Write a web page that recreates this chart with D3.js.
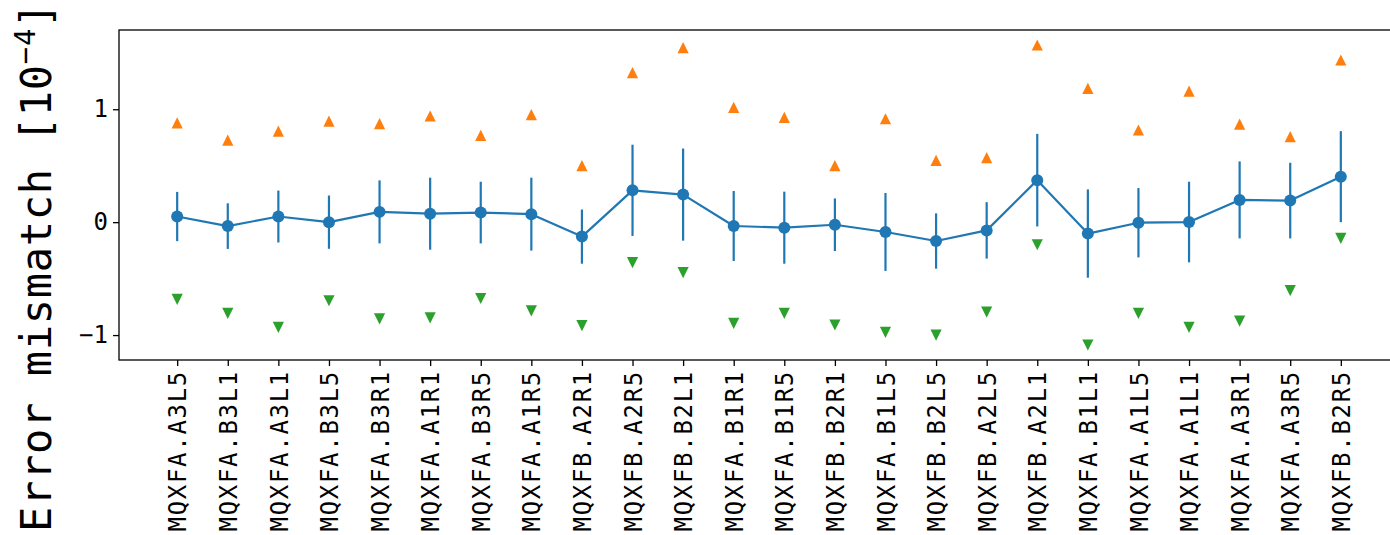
<!DOCTYPE html>
<html>
<head>
<meta charset="utf-8">
<script src="https://cdn.jsdelivr.net/npm/d3@7"></script>
<style>
  html, body { margin: 0; padding: 0; background: #fff; }
  svg { display: block; }
  text { font-family: "DejaVu Sans Mono", monospace; fill: #000; }
</style>
</head>
<body>
<svg id="chart" width="1390" height="535"></svg>
<script>
// Magnet names along the x axis
const categories = [
  "MQXFA.A3L5", "MQXFA.B3L1", "MQXFA.A3L1", "MQXFA.B3L5", "MQXFA.B3R1", "MQXFA.A1R1",
  "MQXFA.B3R5", "MQXFA.A1R5", "MQXFB.A2R1", "MQXFB.A2R5", "MQXFB.B2L1", "MQXFA.B1R1",
  "MQXFA.B1R5", "MQXFB.B2R1", "MQXFA.B1L5", "MQXFB.B2L5", "MQXFB.A2L5", "MQXFB.A2L1",
  "MQXFA.B1L1", "MQXFA.A1L5", "MQXFA.A1L1", "MQXFA.A3R1", "MQXFA.A3R5", "MQXFB.B2R5"
];

// Mean mismatch and its spread (units of 1e-4)
const meanValues = [
  0.05, -0.035, 0.05, 0.0, 0.091, 0.075, 0.085, 0.071, -0.128, 0.282, 0.244, -0.034,
  -0.049, -0.023, -0.087, -0.167, -0.073, 0.372, -0.101, -0.005, 0.001, 0.197, 0.191, 0.403
];
const errValues = [
  0.218, 0.202, 0.23, 0.236, 0.279, 0.319, 0.273, 0.323, 0.24, 0.404, 0.408, 0.31,
  0.319, 0.233, 0.345, 0.245, 0.25, 0.41, 0.391, 0.307, 0.357, 0.341, 0.335, 0.403
];

// Largest and smallest mismatch per magnet
const maxValues = [
  0.88, 0.727, 0.807, 0.895, 0.872, 0.94, 0.769, 0.952, 0.5, 1.324, 1.545, 1.016,
  0.928, 0.5, 0.916, 0.547, 0.571, 1.569, 1.185, 0.816, 1.161, 0.869, 0.757, 1.436
];
const minValues = [
  -0.684, -0.808, -0.932, -0.696, -0.857, -0.848, -0.676, -0.785, -0.916, -0.359, -0.447, -0.896,
  -0.808, -0.911, -0.976, -1.0, -0.797, -0.2, -1.088, -0.808, -0.932, -0.876, -0.607, -0.144
];

const yTicks = [-1, 0, 1];

const svg = d3.select("#chart");
const plot = { left: 119, top: 30, bottom: 360, right: 1399 };

// Autoscale with 5% margins on both axes
const n = categories.length;
const xPad = (n - 1) * 0.05;
const x = d3.scaleLinear()
  .domain([-xPad, n - 1 + xPad])
  .range([plot.left, plot.right]);

const allY = maxValues.concat(minValues,
  meanValues.map((m, i) => m + errValues[i]),
  meanValues.map((m, i) => m - errValues[i]));
const yMin = d3.min(allY), yMax = d3.max(allY);
const yPad = (yMax - yMin) * 0.05;
const y = d3.scaleLinear()
  .domain([yMin - yPad, yMax + yPad])
  .range([plot.bottom, plot.top]);

const C0 = "#1f77b4", C1 = "#ff7f0e", C2 = "#2ca02c";

// Error bars
svg.append("g")
  .selectAll("line")
  .data(meanValues)
  .join("line")
  .attr("x1", (d, i) => x(i))
  .attr("x2", (d, i) => x(i))
  .attr("y1", (d, i) => y(d - errValues[i]))
  .attr("y2", (d, i) => y(d + errValues[i]))
  .attr("stroke", C0)
  .attr("stroke-width", 2.2);

// Mean line
svg.append("path")
  .datum(meanValues)
  .attr("fill", "none")
  .attr("stroke", C0)
  .attr("stroke-width", 2.2)
  .attr("stroke-linejoin", "round")
  .attr("d", d3.line().x((d, i) => x(i)).y(d => y(d)));

// Mean markers
svg.append("g")
  .selectAll("circle")
  .data(meanValues)
  .join("circle")
  .attr("cx", (d, i) => x(i))
  .attr("cy", d => y(d))
  .attr("r", 6)
  .attr("fill", C0);

// Triangle markers: up for the maxima, down for the minima
const tri = 5.6;
const upPath = `M0,${-tri}L${tri},${tri}L${-tri},${tri}Z`;
const downPath = `M0,${tri}L${tri},${-tri}L${-tri},${-tri}Z`;

svg.append("g")
  .selectAll("path")
  .data(maxValues)
  .join("path")
  .attr("transform", (d, i) => `translate(${x(i)},${y(d)})`)
  .attr("d", upPath)
  .attr("fill", C1);

svg.append("g")
  .selectAll("path")
  .data(minValues)
  .join("path")
  .attr("transform", (d, i) => `translate(${x(i)},${y(d)})`)
  .attr("d", downPath)
  .attr("fill", C2);

// Frame
svg.append("rect")
  .attr("x", plot.left)
  .attr("y", plot.top)
  .attr("width", plot.right - plot.left)
  .attr("height", plot.bottom - plot.top)
  .attr("fill", "none")
  .attr("stroke", "#000")
  .attr("stroke-width", 1.3);

// X axis with vertical tick labels
const xAxis = svg.append("g")
  .attr("transform", `translate(0,${plot.bottom})`)
  .call(d3.axisBottom(x)
    .tickValues(d3.range(n))
    .tickFormat(i => categories[i])
    .tickSize(6)
    .tickSizeOuter(0));
xAxis.select(".domain").remove();
xAxis.selectAll(".tick line").attr("stroke", "#000").attr("stroke-width", 1.3);
xAxis.selectAll(".tick text")
  .attr("font-family", "DejaVu Sans Mono")
  .attr("font-size", 24)
  .attr("letter-spacing", 1.7)
  .attr("text-anchor", "end")
  .attr("transform", "rotate(-90)")
  .attr("x", -10)
  .attr("y", 0)
  .attr("dy", "0.36em");

// Y axis
const yAxis = svg.append("g")
  .attr("transform", `translate(${plot.left},0)`)
  .call(d3.axisLeft(y).tickValues(yTicks).tickFormat(d3.format("")).tickSize(6).tickSizeOuter(0));
yAxis.select(".domain").remove();
yAxis.selectAll(".tick line").attr("stroke", "#000").attr("stroke-width", 1.3);
yAxis.selectAll(".tick text")
  .attr("font-family", "DejaVu Sans Mono")
  .attr("font-size", 24)
  .attr("x", -11);

// Y axis title with superscript exponent
const title = svg.append("text")
  .attr("transform", "translate(51,267) rotate(-90)")
  .attr("text-anchor", "middle")
  .attr("font-size", 42)
  .attr("letter-spacing", 0.7);
title.append("tspan").text("Error mismatch [10");
title.append("tspan").attr("font-size", 29).attr("dy", -16).text("\u22124");
title.append("tspan").attr("dy", 16).text("]");
</script>
</body>
</html>
